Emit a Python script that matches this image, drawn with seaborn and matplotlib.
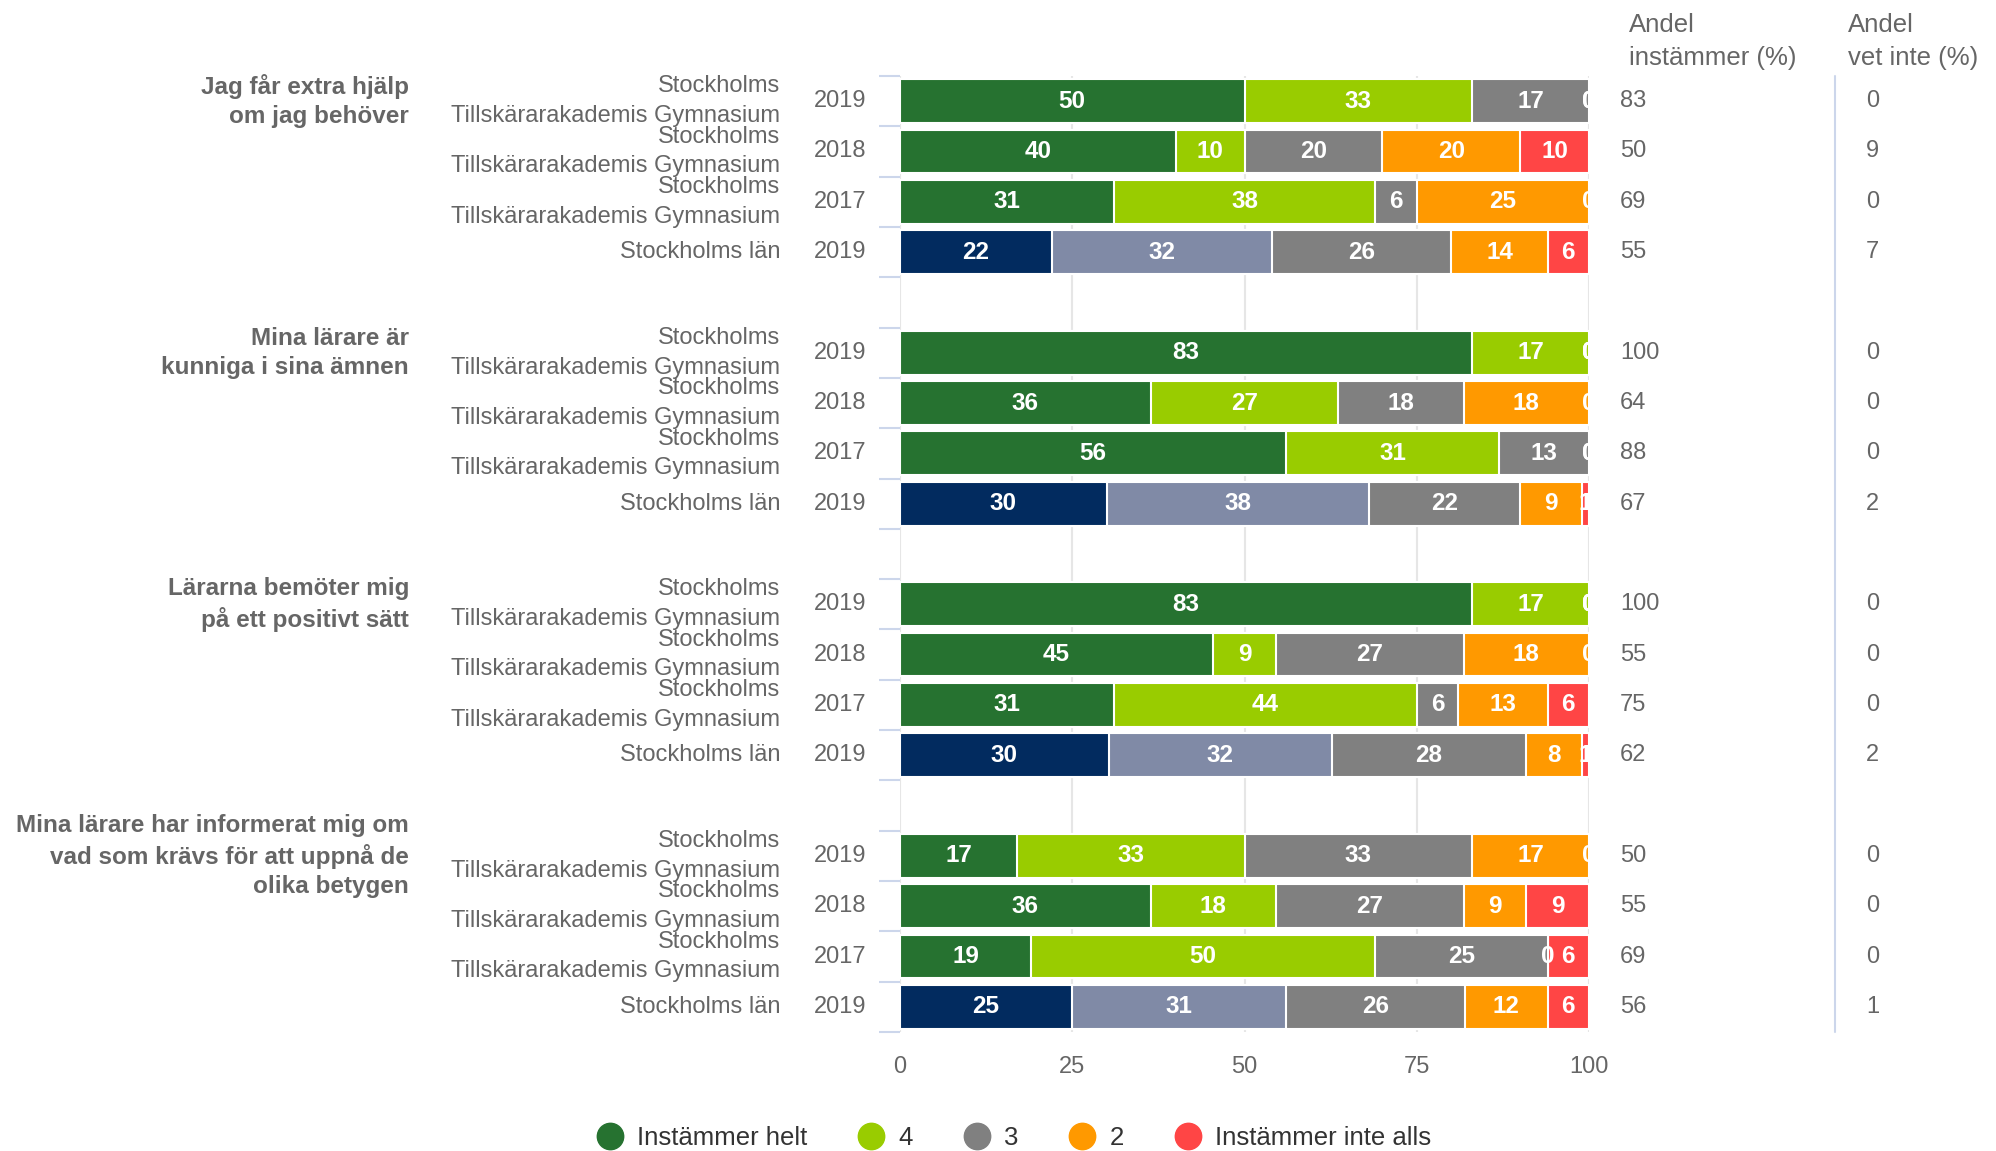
import numpy as np
import pandas as pd
import seaborn as sns
import matplotlib.pyplot as plt
from matplotlib.lines import Line2D

# survey data, percent per answer (rounded as shown in the chart)
groups = ["Jag får extra hjälp\nom jag behöver",
          "Mina lärare är\nkunniga i sina ämnen",
          "Lärarna bemöter mig\npå ett positivt sätt",
          "Mina lärare har informerat mig om\nvad som krävs för att uppnå de\nolika betygen"]
units = ["Stockholms\nTillskärarakademis Gymnasium"] * 3 + ["Stockholms län"]
years = ["2019", "2018", "2017", "2019"]
answers = ["Instämmer helt", "4", "3", "2", "Instämmer inte alls"]

helt = [50, 40, 31, 22, 83, 36, 56, 30, 83, 45, 31, 30, 17, 36, 19, 25]
fyra = [33, 10, 38, 32, 17, 27, 31, 38, 17, 9, 44, 32, 33, 18, 50, 31]
tre = [17, 20, 6, 26, 0, 18, 13, 22, 0, 27, 6, 28, 33, 27, 25, 26]
tva = [0, 20, 25, 14, 0, 18, 0, 9, 0, 18, 13, 8, 17, 9, 0, 12]
inte = [0, 10, 0, 6, 0, 0, 0, 1, 0, 0, 6, 1, 0, 9, 6, 6]
andel = [83, 50, 69, 55, 100, 64, 88, 67, 100, 55, 75, 62, 50, 55, 69, 56]
vet_inte = [0, 9, 0, 7, 0, 0, 0, 2, 0, 0, 0, 2, 0, 0, 0, 1]

school_colors = ["#267230", "#99cc00", "#808080", "#ff9900", "#ff4545"]
lan_colors = ["#022b5f", "#808aa6", "#808080", "#ff9900", "#ff4545"]

sns.set_style("white")
plt.rcParams['font.family'] = ['Liberation Sans', 'DejaVu Sans']

fig = plt.figure(figsize=(19.96, 11.51), dpi=100)
ax = fig.add_axes([0.4509, 0.1034, 0.3452, 0.8306])

pos = [g * 5 + i for g in range(4) for i in range(4)]
kind = ["skola", "skola", "skola", "lan"] * 4
vals = np.array([helt, fyra, tre, tva, inte], dtype=float)
share = vals / vals.sum(axis=0) * 100   # percent stacking like the original
cum = share.cumsum(axis=0)

df = pd.DataFrame({"pos": pos, "kind": kind})
# stacked bars: draw cumulative totals from the last answer to the first
for k in reversed(range(5)):
    df["x"] = cum[k]
    sns.barplot(data=df, x="x", y="pos", hue="kind", orient="y",
                palette={"skola": school_colors[k], "lan": lan_colors[k]},
                native_scale=True, dodge=False, width=0.87, saturation=1,
                edgecolor="white", linewidth=1.5, errorbar=None,
                legend=False, ax=ax)

for r in range(16):
    left = 0
    for k in range(5):
        ax.text(left + share[k, r] / 2, pos[r], str(int(vals[k, r])),
                ha="center", va="center", color="white", fontweight="bold",
                fontsize=17.5, clip_on=True)
        left += share[k, r]

ax.set_xlim(0, 100)
ax.set_ylim(18.5, -0.5)
ax.set_xticks([0, 25, 50, 75, 100])
ax.set_yticks(np.arange(-0.5, 19, 1))
ax.set_yticklabels([])
ax.set_xlabel("")
ax.set_ylabel("")
ax.set_axisbelow(True)
ax.grid(axis="x", color="#e6e6e6", lw=1.5)
ax.grid(axis="y", visible=False)
ax.tick_params(axis="y", left=True, length=15, width=1.5, color="#ccd6eb")
ax.tick_params(axis="x", length=0, pad=17, labelsize=17, labelcolor="#666666")
for s in ax.spines.values():
    s.set_visible(False)

tr = ax.get_yaxis_transform()
for r in range(16):
    ax.text(-0.174, pos[r], units[r % 4], ha="right", va="center", fontsize=17,
            color="#666666", linespacing=1.45, transform=tr)
    ax.text(-0.087, pos[r], years[r % 4], ha="center", va="center", fontsize=17,
            color="#666666", transform=tr)
    ax.text(1.045, pos[r], str(andel[r]), ha="left", va="center", fontsize=17,
            color="#666666", transform=tr)
    ax.text(1.402, pos[r], str(vet_inte[r]), ha="left", va="center", fontsize=17,
            color="#666666", transform=tr)
for g in range(4):
    ax.text(-0.7126, g * 5, groups[g], ha="right", va="center", fontsize=17.5,
            fontweight="bold", color="#666666", linespacing=1.33,
            multialignment="right", transform=tr)

ax.plot([1.357, 1.357], [-0.5, 18.5], transform=tr, color="#ccd6eb", lw=1.5,
        clip_on=False)

fig.text(1629 / 1996, 1 - 41.5 / 1151, "Andel\ninstämmer (%)", ha="left",
         va="center", fontsize=18.5, color="#666666", linespacing=1.45)
fig.text(1848 / 1996, 1 - 41.5 / 1151, "Andel\nvet inte (%)", ha="left",
         va="center", fontsize=18.5, color="#666666", linespacing=1.45)

handles = [Line2D([], [], marker="o", ls="", markersize=19,
                  markerfacecolor=c, markeredgecolor=c) for c in school_colors]
fig.legend(handles, answers, loc="center", bbox_to_anchor=(0.508, 0.011),
           ncol=5, frameon=False, fontsize=18.5, labelcolor="#333333",
           handletextpad=0.55, columnspacing=2.0, handlelength=1.0)

fig.savefig("out.png", dpi=100)
